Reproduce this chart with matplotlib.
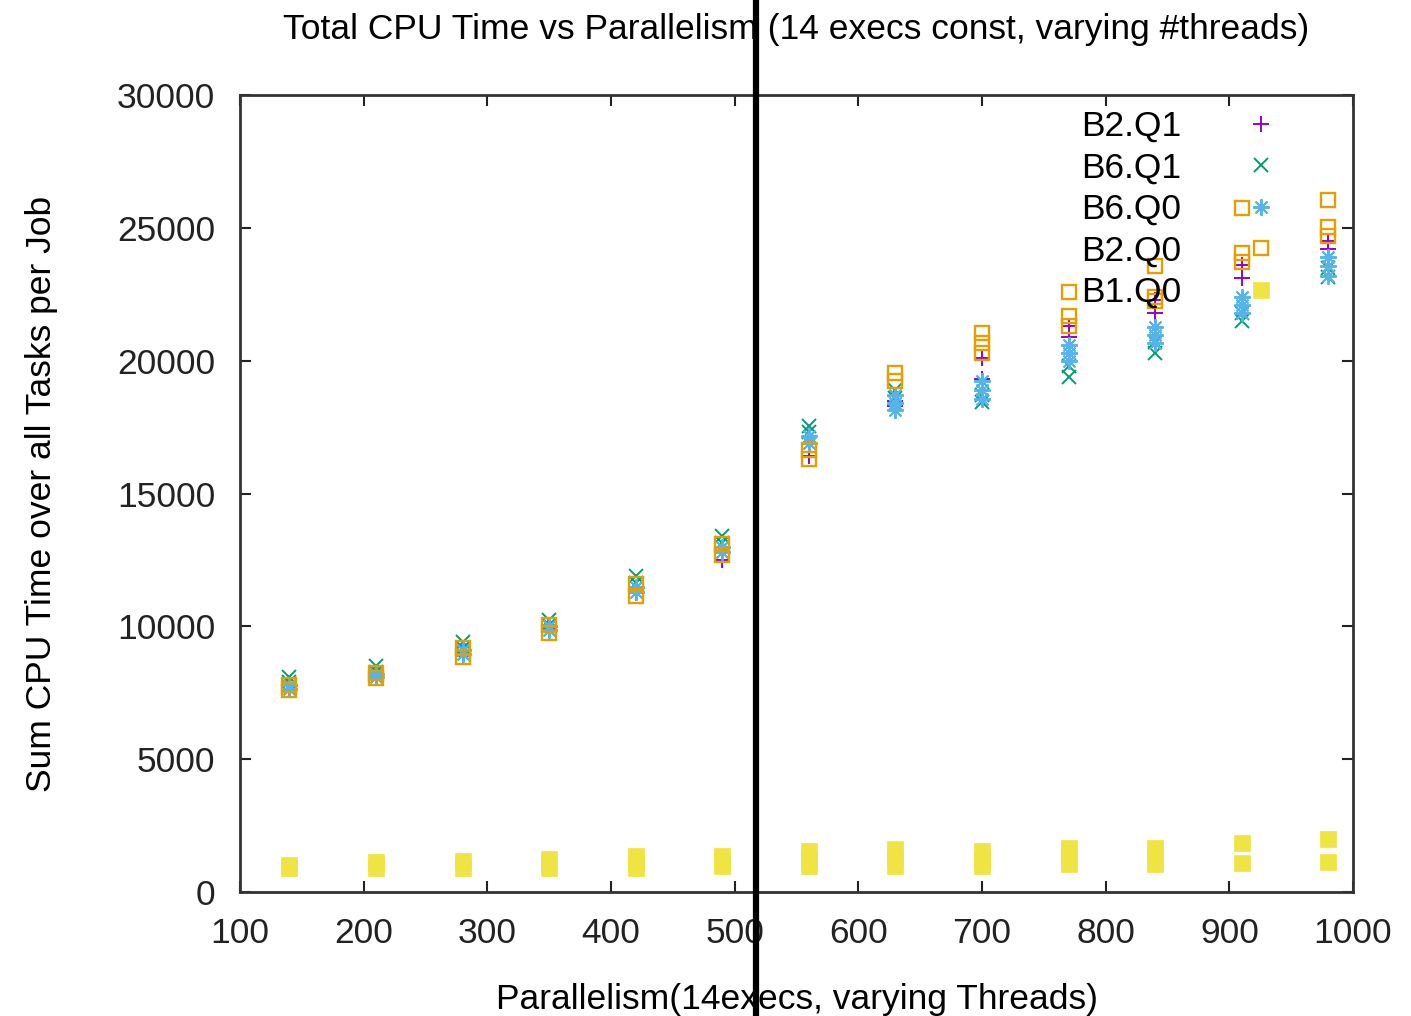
import matplotlib
matplotlib.use("Agg")
from matplotlib import pyplot as plt

plt.rcParams["font.family"] = ["Liberation Sans", "DejaVu Sans"]

# parallelism = 14 executors x threads
PARALLELISM = [140, 210, 280, 350, 420, 490, 560, 630, 700, 770, 840, 910, 980]

# summed CPU time per job, several runs at each parallelism level
B2_Q1 = [
    [7750, 7650], [8150, 8050], [9050, 8900], [9950, 9850], [11400, 11250],
    [12850, 12500], [16550, 16400], [18500, 18300], [20100, 19300],
    [21300, 20900], [22300, 21800], [23600, 23100], [24500, 24200],
]
B6_Q1 = [
    [8100, 7900], [8500, 8300], [9400, 9200], [10250, 10050], [11900, 11650],
    [13400, 13150], [17550, 17300], [18900, 18600], [18700, 18450],
    [19800, 19400], [20700, 20300], [21800, 21500], [23500, 23150],
]
B6_Q0 = [
    [7800, 7650], [8200, 8100], [9100, 8950], [10000, 9850], [11500, 11300],
    [13000, 12800], [17150, 16900], [18700, 18400, 18150],
    [19250, 18900, 18550], [20600, 20300, 20000], [21250, 20950, 20650],
    [22400, 22100, 21800], [23900, 23550, 23200],
]
B2_Q0 = [
    [7800, 7600], [8250, 8050], [9200, 8850], [10050, 9750], [11600, 11150],
    [13100, 12700], [16650, 16300], [19550, 19250], [21050, 20650, 20300],
    [22600, 21700, 21300], [23550, 22400, 22250], [25750, 24050, 23700],
    [26050, 25050, 24700],
]
B1_Q0 = [
    [1020, 900], [1130, 900], [1170, 900], [1260, 1050, 900], [1350, 1100, 900],
    [1350, 1150, 990], [1550, 1250, 990], [1610, 1300, 990], [1550, 1250, 990],
    [1670, 1350, 1070], [1670, 1350, 1070], [1830, 1090], [2000, 1130],
]

SERIES = [
    ("B2.Q1", B2_Q1, dict(marker="+", color="#9400d3", markersize=12, mew=1.4)),
    ("B6.Q1", B6_Q1, dict(marker="x", color="#009e73", markersize=10, mew=1.4)),
    ("B6.Q0", B6_Q0, dict(marker=(8, 2, 0), color="#56b4e9", markersize=12, mew=1.4)),
    ("B2.Q0", B2_Q0, dict(marker="s", color="#e69f00", markersize=10, mew=1.7,
                          markerfacecolor="none")),
    ("B1.Q0", B1_Q0, dict(marker="s", color="#f0e442", markersize=11, mew=0.5)),
]

CUT_X = 517  # vertical marker line
FS = 25.5

fig = plt.figure(figsize=(14.11, 10.16), dpi=100)
ax = fig.add_axes([0.1701, 0.122, 0.7888, 0.7845])

for label, runs, style in SERIES:
    xs = [x for x, vals in zip(PARALLELISM, runs) for _ in vals]
    ys = [v for vals in runs for v in vals]
    ax.plot(xs, ys, linestyle="none", label=label, **style)

ax.set_xlim(100, 1000)
ax.set_ylim(0, 30000)
ax.set_xticks(range(100, 1001, 100))
ax.set_yticks(range(0, 30001, 5000))
ax.tick_params(direction="in", length=8, width=1.5, top=True, right=True,
               labelsize=FS, pad=18, colors="#222222")
for s in ax.spines.values():
    s.set_linewidth(2)
    s.set_color("#333333")

ax.set_xlabel("Parallelism(14execs, varying Threads)", fontsize=FS, labelpad=24)
ax.set_ylabel("Sum CPU Time over all Tasks per Job", fontsize=FS, labelpad=42)
ax.set_title("Total CPU Time vs Parallelism (14 execs const, varying #threads)",
             fontsize=FS, pad=40)

ax.legend(loc="upper right", bbox_to_anchor=(0.9335, 0.981), frameon=False,
          markerfirst=False, fontsize=FS, handlelength=1.0, handletextpad=1.75,
          labelspacing=0.24, borderpad=0, borderaxespad=0)

ax.axvline(CUT_X, ymin=-0.16, ymax=1.125, clip_on=False, color="black",
           linewidth=4.5, zorder=10)

fig.savefig("out.png", dpi=100)
